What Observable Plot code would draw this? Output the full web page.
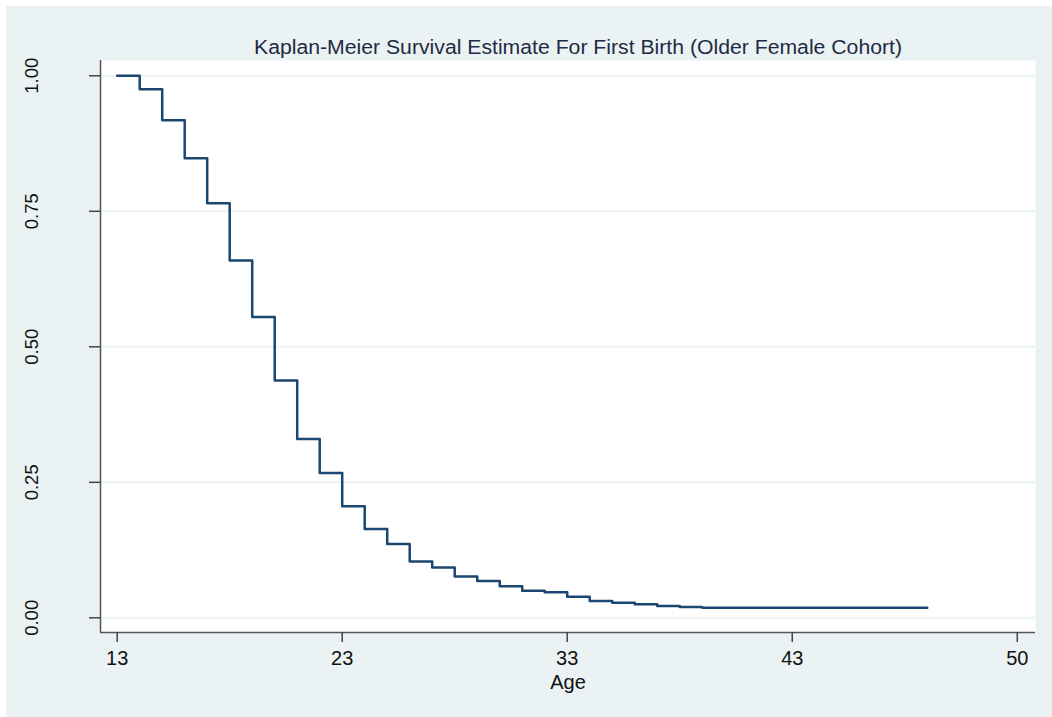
<!DOCTYPE html>
<html>
<head>
<meta charset="utf-8">
<script src="https://cdn.jsdelivr.net/npm/d3@7"></script>
<script src="https://cdn.jsdelivr.net/npm/@observablehq/plot@0.6"></script>
<style>
  html, body { margin: 0; padding: 0; background: #ffffff; }
  #bg { position: absolute; left: 6px; top: 6px; width: 1046px; height: 711px; background: #eaf2f3; }
  #chart { position: absolute; left: 0; top: 0; }
</style>
</head>
<body>
<div id="bg"></div>
<div id="chart"></div>
<script>
// Kaplan-Meier survival estimate
const ages = [13, 14, 15, 16, 17, 18, 19, 20, 21, 22, 23, 24, 25, 26, 27, 28, 29, 30, 31, 32, 33, 34, 35, 36, 37, 38, 39, 49];
const survival = [1.000, 0.975, 0.918, 0.848, 0.765, 0.659, 0.555, 0.438, 0.330, 0.267, 0.206, 0.164, 0.136, 0.104, 0.093, 0.076, 0.068, 0.058, 0.050, 0.047, 0.039, 0.031, 0.028, 0.025, 0.022, 0.020, 0.0185, 0.0185];

const xTickValues = [13, 23, 33, 43, 53];
const xTickLabels = ["13", "23", "33", "43", "50"];
const yTickValues = [0, 0.25, 0.5, 0.75, 1];
const yTickLabels = ["0.00", "0.25", "0.50", "0.75", "1.00"];

const titleText = "Kaplan-Meier Survival Estimate For First Birth (Older Female Cohort)";
const xLabel = "Age";

const data = ages.map((a, i) => ({age: a, s: survival[i]}));

const xDomain = [12.258, 53.81];
const yDomain = [-0.0271, 1.0282];

const chart = Plot.plot({
  width: 1052,
  height: 717,
  marginLeft: 100,
  marginTop: 60,
  marginRight: 17,
  marginBottom: 85,
  style: {background: "transparent", fontFamily: "Liberation Sans, Arial, sans-serif"},
  x: {domain: xDomain},
  y: {domain: yDomain},
  marks: [
    Plot.frame({fill: "white", stroke: "none"}),
    Plot.ruleY(yTickValues, {stroke: "#eaf2f3", strokeWidth: 2}),
    Plot.line(data, {x: "age", y: "s", curve: "step-after", stroke: "#1a476f", strokeWidth: 2.5}),
    Plot.ruleX([xDomain[0]], {stroke: "#555555", strokeWidth: 1.5}),
    Plot.ruleY([yDomain[0]], {stroke: "#555555", strokeWidth: 1.5}),
    Plot.axisX({
      ticks: xTickValues,
      tickFormat: (d) => xTickLabels[xTickValues.indexOf(d)],
      tickSize: 10, tickPadding: 8, fontSize: 20,
      stroke: "#444444", strokeWidth: 1.5, color: "#111111",
      label: null
    }),
    Plot.axisY({
      ticks: yTickValues,
      tickFormat: () => "",
      tickSize: 11, stroke: "#444444", strokeWidth: 1.5,
      label: null
    }),
    Plot.text(yTickValues, {
      y: (d) => d,
      text: (d) => yTickLabels[yTickValues.indexOf(d)],
      frameAnchor: "left", dx: -68.5, rotate: -90,
      textAnchor: "middle", lineAnchor: "middle",
      fontSize: 18.5, fill: "#111111"
    }),
    Plot.text([xLabel], {frameAnchor: "bottom", dy: 56, fontSize: 20, fill: "#111111", lineAnchor: "bottom"})
  ]
});

const svg = d3.select(chart);
svg.append("text")
  .attr("x", 578)
  .attr("y", 54)
  .attr("text-anchor", "middle")
  .attr("font-size", 20)
  .attr("font-family", "Liberation Sans, Arial, sans-serif")
  .attr("fill", "#1f2a44")
  .attr("textLength", 648)
  .attr("lengthAdjust", "spacingAndGlyphs")
  .text(titleText);

document.getElementById("chart").appendChild(chart);
</script>
</body>
</html>
